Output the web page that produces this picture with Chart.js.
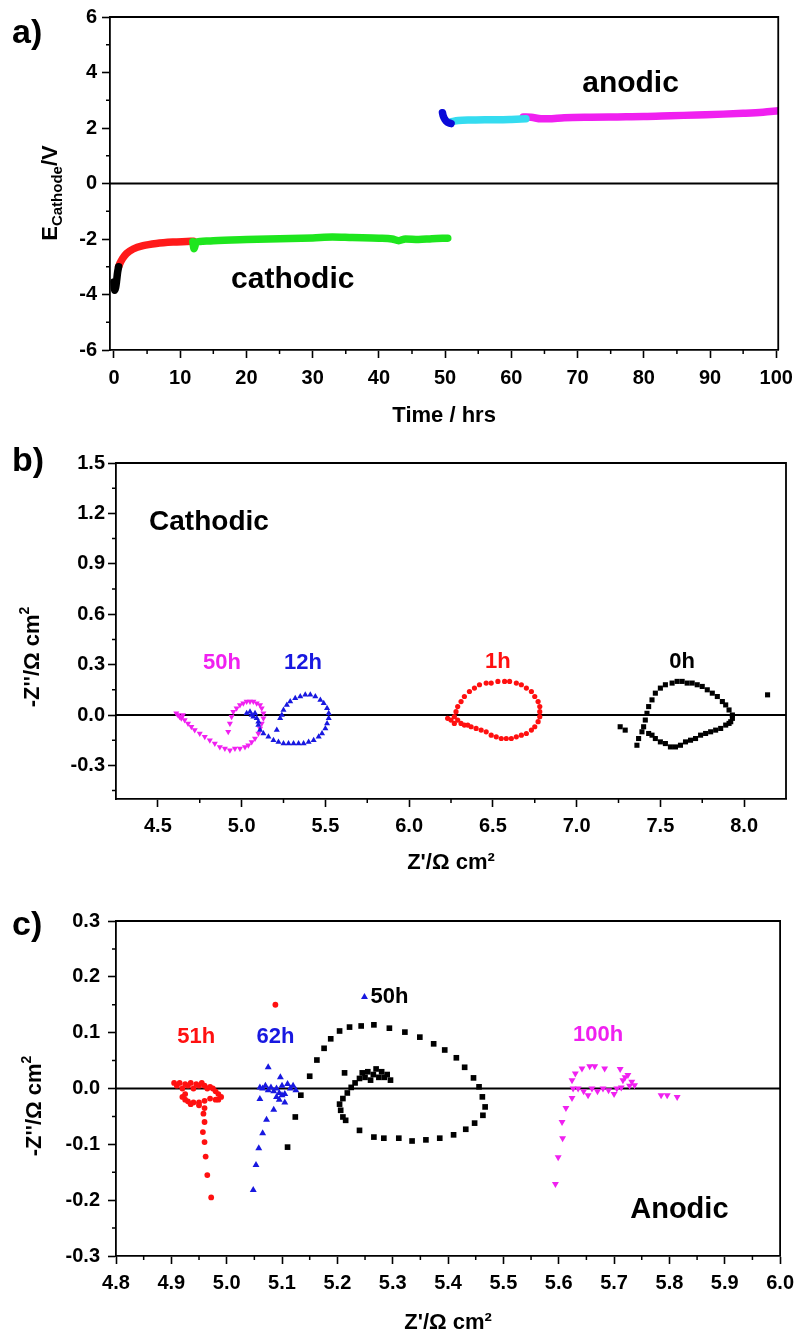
<!DOCTYPE html>
<html>
<head>
<meta charset="utf-8">
<script src="https://cdn.jsdelivr.net/npm/chart.js@4.4.1/dist/chart.umd.min.js"></script>
<style>
    html, body { margin: 0; padding: 0; background: #fff; }
    .panel { position: absolute; left: 0; }
    #chartA { top: 0; }
    #chartB { top: 440px; }
    #chartC { top: 880px; }
</style>
</head>
<body>
<canvas id="chartA" class="panel" width="801" height="440"></canvas>
<canvas id="chartB" class="panel" width="801" height="440"></canvas>
<canvas id="chartC" class="panel" width="801" height="458"></canvas>
<script>
const FONT = "'Liberation Sans', Arial, sans-serif";

// ---- Panel a: E_cathode vs time, [hrs, V] ----
const aBlack   = [[0,-3.55],[0.1,-3.85],[0.25,-3.75],[0.4,-3.5],[0.55,-3.2],[0.7,-3.0]];
const aRed     = [[0.7,-3.0],[0.9,-2.88],[1.3,-2.7],[1.9,-2.52],[2.9,-2.36],[4.4,-2.24],[6.4,-2.16],[8.9,-2.11],[11,-2.09],[12,-2.08]];
const aGreen   = [[11.9,-2.1],[12.1,-2.35],[12.4,-2.12],[13,-2.09],[15,-2.06],[20,-2.02],[25,-1.99],[30,-1.96],[33,-1.93],[36,-1.95],[40,-1.97],[42,-2.0],[43,-2.06],[44,-2.0],[46,-2.02],[48,-1.99],[50.4,-1.97]];
const aBlue    = [[49.6,2.55],[49.7,2.45],[50,2.3],[50.4,2.2],[50.9,2.16]];
const aCyan    = [[50.8,2.22],[52,2.27],[54,2.29],[56,2.3],[58,2.3],[60,2.31],[62.2,2.33]];
const aMagenta = [[61.8,2.4],[63,2.39],[64.5,2.33],[65.5,2.33],[68,2.37],[72,2.39],[76,2.4],[80,2.41],[84,2.44],[88,2.47],[92,2.5],[95,2.53],[98,2.57],[100.3,2.62]];
const aXTicks = [0, 10, 20, 30, 40, 50, 60, 70, 80, 90, 100];
const aXMinor = [5, 15, 25, 35, 45, 55, 65, 75, 85, 95];
const aYTicks = [-6, -4, -2, 0, 2, 4, 6];
const aYMinor = [-5, -3, -1, 1, 3, 5];

// ---- Panel b: cathodic impedance, [Z', -Z''] ----
const b50h = [[4.61,0.01],[4.62,0.0],[4.63,-0.01],[4.64,-0.02],[4.65,0.0],[4.66,-0.03],[4.68,-0.05],[4.70,-0.07],[4.72,-0.09],[4.75,-0.11],[4.78,-0.13],[4.81,-0.15],[4.84,-0.17],[4.87,-0.19],[4.90,-0.2],[4.93,-0.21],[4.96,-0.2],[4.99,-0.2],[5.02,-0.19],[5.04,-0.18],[5.06,-0.16],[5.08,-0.14],[5.10,-0.11],[5.11,-0.08],[5.12,-0.05],[5.13,-0.02],[5.13,0.01],[5.12,0.04],[5.11,0.06],[5.09,0.07],[5.07,0.08],[5.05,0.08],[5.03,0.08],[5.01,0.07],[4.99,0.06],[4.97,0.04],[4.95,0.02],[4.94,-0.01],[4.93,-0.05],[4.92,-0.1]];
const b12h = [[5.03,0.01],[5.05,0.02],[5.06,0.0],[5.07,-0.01],[5.08,0.01],[5.09,-0.02],[5.10,-0.04],[5.10,-0.06],[5.11,-0.09],[5.13,-0.11],[5.16,-0.13],[5.19,-0.15],[5.22,-0.16],[5.25,-0.17],[5.28,-0.17],[5.31,-0.17],[5.34,-0.17],[5.37,-0.17],[5.40,-0.16],[5.43,-0.15],[5.46,-0.13],[5.48,-0.11],[5.50,-0.08],[5.51,-0.05],[5.52,-0.02],[5.52,0.01],[5.51,0.04],[5.49,0.07],[5.47,0.09],[5.44,0.11],[5.41,0.12],[5.38,0.12],[5.35,0.11],[5.32,0.1],[5.29,0.08],[5.27,0.06],[5.25,0.03],[5.24,0.0],[5.23,-0.02],[5.21,-0.09]];
const b1h = [[6.23,-0.02],[6.25,-0.03],[6.27,-0.05],[6.29,-0.03],[6.31,-0.05],[6.33,-0.06],[6.35,-0.06],[6.37,-0.07],[6.40,-0.08],[6.43,-0.09],[6.46,-0.1],[6.49,-0.12],[6.52,-0.13],[6.55,-0.14],[6.58,-0.14],[6.61,-0.14],[6.64,-0.13],[6.67,-0.12],[6.70,-0.11],[6.73,-0.09],[6.75,-0.07],[6.77,-0.04],[6.78,-0.01],[6.78,0.02],[6.78,0.05],[6.77,0.08],[6.75,0.11],[6.73,0.14],[6.70,0.16],[6.67,0.18],[6.64,0.19],[6.60,0.2],[6.57,0.2],[6.53,0.2],[6.49,0.19],[6.46,0.19],[6.42,0.18],[6.39,0.16],[6.36,0.14],[6.33,0.11],[6.31,0.08],[6.29,0.05],[6.28,0.02],[6.27,-0.01]];
const b0h = [[7.26,-0.07],[7.29,-0.09],[7.36,-0.18],[7.37,-0.14],[7.39,-0.1],[7.40,-0.07],[7.41,-0.03],[7.42,0.01],[7.43,0.05],[7.45,0.09],[7.47,0.13],[7.50,0.16],[7.53,0.18],[7.57,0.19],[7.60,0.2],[7.63,0.2],[7.66,0.19],[7.69,0.19],[7.72,0.18],[7.75,0.17],[7.78,0.15],[7.81,0.13],[7.84,0.11],[7.87,0.08],[7.89,0.06],[7.91,0.03],[7.93,0.0],[7.93,-0.02],[7.92,-0.04],[7.91,-0.05],[7.89,-0.06],[7.86,-0.08],[7.83,-0.09],[7.80,-0.1],[7.77,-0.11],[7.74,-0.12],[7.71,-0.14],[7.68,-0.15],[7.65,-0.16],[7.62,-0.18],[7.59,-0.19],[7.56,-0.19],[7.53,-0.17],[7.50,-0.16],[7.47,-0.14],[7.45,-0.12],[7.43,-0.11],[8.14,0.12]];
const bXTicks = [4.5, 5.0, 5.5, 6.0, 6.5, 7.0, 7.5, 8.0];
const bXMinor = [4.75, 5.25, 5.75, 6.25, 6.75, 7.25, 7.75];
const bYTicks = [-0.3, 0.0, 0.3, 0.6, 0.9, 1.2, 1.5];
const bYMinor = [-0.45, -0.15, 0.15, 0.45, 0.75, 1.05, 1.35];

// ---- Panel c: anodic impedance, [Z', -Z''] ----
const c51h = [[4.905,0.01],[4.91,0.005],[4.915,0.01],[4.92,0.0],[4.925,0.008],[4.93,0.005],[4.935,0.01],[4.94,0.0],[4.945,0.008],[4.95,0.005],[4.955,0.01],[4.96,0.005],[4.965,0.0],[4.97,0.003],[4.975,0.0],[4.98,-0.005],[4.985,-0.01],[4.99,-0.015],[4.985,-0.02],[4.98,-0.02],[4.97,-0.018],[4.96,-0.022],[4.95,-0.025],[4.94,-0.025],[4.93,-0.023],[4.925,-0.02],[4.92,-0.015],[4.925,-0.01],[4.935,-0.028],[4.95,-0.03],[4.96,-0.035],[4.958,-0.045],[4.96,-0.06],[4.957,-0.078],[4.96,-0.096],[4.962,-0.122],[4.965,-0.155],[4.972,-0.195],[5.088,0.15]];
const c62h = [[5.06,0.002],[5.065,0.0],[5.07,0.005],[5.075,-0.003],[5.08,0.002],[5.085,-0.005],[5.09,0.0],[5.095,-0.008],[5.1,0.005],[5.105,-0.01],[5.11,0.008],[5.115,0.0],[5.12,0.005],[5.125,-0.003],[5.09,-0.015],[5.095,-0.02],[5.1,-0.012],[5.105,-0.025],[5.075,0.038],[5.097,0.02],[5.06,-0.019],[5.085,-0.038],[5.072,-0.056],[5.065,-0.08],[5.058,-0.107],[5.053,-0.137],[5.048,-0.182],[5.249,0.164]];
const c50h = [[5.11,-0.105],[5.124,-0.051],[5.134,-0.012],[5.15,0.022],[5.163,0.051],[5.176,0.072],[5.188,0.089],[5.204,0.103],[5.222,0.11],[5.243,0.112],[5.266,0.114],[5.294,0.108],[5.322,0.101],[5.349,0.092],[5.374,0.08],[5.394,0.069],[5.415,0.055],[5.43,0.038],[5.446,0.019],[5.456,0.003],[5.462,-0.015],[5.467,-0.033],[5.463,-0.048],[5.448,-0.062],[5.432,-0.073],[5.41,-0.083],[5.385,-0.089],[5.36,-0.092],[5.335,-0.094],[5.311,-0.089],[5.284,-0.089],[5.266,-0.087],[5.24,-0.075],[5.215,-0.057],[5.21,-0.051],[5.206,-0.039],[5.204,-0.028],[5.21,-0.018],[5.218,-0.008],[5.225,0.002],[5.232,0.01],[5.24,0.018],[5.245,0.028],[5.25,0.02],[5.255,0.03],[5.26,0.015],[5.265,0.025],[5.27,0.035],[5.275,0.02],[5.28,0.03],[5.285,0.02],[5.29,0.025],[5.296,0.015],[5.213,0.028]];
const c100h = [[5.594,-0.171],[5.599,-0.123],[5.607,-0.089],[5.606,-0.06],[5.613,-0.035],[5.624,-0.017],[5.626,0.0],[5.624,0.015],[5.63,0.027],[5.642,0.036],[5.656,0.04],[5.665,0.04],[5.683,0.036],[5.711,0.035],[5.725,0.024],[5.732,0.012],[5.737,0.006],[5.716,0.015],[5.72,0.02],[5.728,0.005],[5.635,0.0],[5.645,-0.005],[5.653,-0.012],[5.66,0.0],[5.67,-0.005],[5.68,0.0],[5.69,-0.003],[5.7,-0.01],[5.705,0.0],[5.713,0.002],[5.785,-0.012],[5.796,-0.012],[5.814,-0.015]];
const cXTicks = [4.8, 4.9, 5.0, 5.1, 5.2, 5.3, 5.4, 5.5, 5.6, 5.7, 5.8, 5.9, 6.0];
const cXMinor = [4.85, 4.95, 5.05, 5.15, 5.25, 5.35, 5.45, 5.55, 5.65, 5.75, 5.85, 5.95];
const cYTicks = [-0.3, -0.2, -0.1, 0.0, 0.1, 0.2, 0.3];
const cYMinor = [-0.25, -0.15, -0.05, 0.05, 0.15, 0.25];

const RED = '#ff1010', BLUE = '#1818e0', MAGENTA = '#f020f0';

function pts(pairs) {
    return pairs.map(p => ({ x: p[0], y: p[1] }));
}

// draw a rotated multi-part title (subscript / superscript parts)
function drawYTitle(ctx, parts, cx, cy) {
    ctx.save();
    ctx.translate(cx, cy);
    ctx.rotate(-Math.PI / 2);
    ctx.textBaseline = 'alphabetic';
    ctx.textAlign = 'left';
    ctx.fillStyle = '#000';
    let total = 0;
    parts.forEach(p => { ctx.font = `bold ${p.size}px ${FONT}`; total += ctx.measureText(p.text).width; });
    let x = -total / 2;
    parts.forEach(p => {
        ctx.font = `bold ${p.size}px ${FONT}`;
        ctx.fillText(p.text, x, 8 + (p.dy || 0));
        x += ctx.measureText(p.text).width;
    });
    ctx.restore();
}

// frame, zero line, minor ticks, labels
function decor(cfg) {
    return {
        id: 'decor',
        beforeDatasetsDraw(chart) {
            const { ctx, chartArea: a, scales: { y } } = chart;
            const y0 = y.getPixelForValue(0);
            ctx.save();
            ctx.strokeStyle = '#000';
            ctx.lineWidth = 1.8;
            ctx.beginPath();
            ctx.moveTo(a.left, y0);
            ctx.lineTo(a.right, y0);
            ctx.stroke();
            ctx.restore();
        },
        afterDraw(chart) {
            const { ctx, chartArea: a, scales: { x, y } } = chart;
            ctx.save();
            ctx.strokeStyle = '#000';
            ctx.lineWidth = 1.8;
            ctx.beginPath();
            ctx.moveTo(a.left, a.top);
            ctx.lineTo(a.right, a.top);
            ctx.lineTo(a.right, a.bottom);
            ctx.stroke();

            ctx.lineWidth = 1.5;
            ctx.beginPath();
            cfg.xMinor.forEach(v => {
                const px = x.getPixelForValue(v);
                ctx.moveTo(px, a.bottom);
                ctx.lineTo(px, a.bottom + 4);
            });
            cfg.yMinor.forEach(v => {
                const py = y.getPixelForValue(v);
                ctx.moveTo(a.left, py);
                ctx.lineTo(a.left - 4, py);
            });
            ctx.stroke();

            ctx.textAlign = 'center';
            ctx.textBaseline = 'middle';
            cfg.labels.forEach(l => {
                ctx.font = `bold ${l.size}px ${FONT}`;
                ctx.fillStyle = l.color;
                ctx.fillText(l.text, x.getPixelForValue(l.x), y.getPixelForValue(l.y));
            });

            ctx.textAlign = 'left';
            ctx.fillStyle = '#000';
            ctx.font = `bold 34px ${FONT}`;
            ctx.fillText(cfg.letter, cfg.letterPos[0], cfg.letterPos[1]);
            ctx.restore();

            drawYTitle(ctx, cfg.yTitle, cfg.yTitlePos[0], cfg.yTitlePos[1]);
        }
    };
}

function axis(pos, min, max, ticks, fmt, fit, pad, title) {
    return {
        type: 'linear',
        position: pos,
        min: min,
        max: max,
        afterBuildTicks: s => { s.ticks = ticks.map(v => ({ value: v })); },
        afterFit: s => { if (pos === 'left') s.width = fit; else s.height = fit; },
        border: { color: '#000', width: 1.8 },
        grid: { drawOnChartArea: false, drawTicks: true, tickLength: 8, tickWidth: 1.6, tickColor: '#000' },
        ticks: {
            autoSkip: false,
            maxRotation: 0,
            padding: pad,
            color: '#000',
            font: { family: FONT, size: 20, weight: 'bold' },
            callback: fmt
        },
        title: title || { display: false }
    };
}

function xTitle(text, pb) {
    return {
        display: true,
        text: text,
        color: '#000',
        font: { family: FONT, size: 22, weight: 'bold' },
        padding: { top: 0, bottom: pb }
    };
}

function baseOptions(padTop, padRight, scales) {
    return {
        responsive: false,
        animation: false,
        devicePixelRatio: 1,
        layout: { autoPadding: false, padding: { top: padTop, right: padRight, bottom: 0, left: 0 } },
        plugins: { legend: { display: false }, tooltip: { enabled: false } },
        scales: scales
    };
}

function lineSet(data, color, order) {
    return {
        data: pts(data), showLine: true, borderColor: color, borderWidth: 7.5,
        pointRadius: 0, cubicInterpolationMode: 'monotone',
        borderCapStyle: 'round', borderJoinStyle: 'round', order: order
    };
}

function dotSet(data, color, style, r, rot) {
    return {
        data: pts(data), showLine: false, pointStyle: style, pointRadius: r,
        pointRotation: rot || 0, backgroundColor: color, borderColor: color, borderWidth: 0
    };
}

const int = v => String(v);
const one = v => v.toFixed(1);

// ---- Panel a ----
new Chart(document.getElementById('chartA'), {
    type: 'scatter',
    data: {
        datasets: [
            lineSet(aBlack, '#000000', 1),
            lineSet(aRed, '#ff1a1a', 3),
            lineSet(aGreen, '#1ee61e', 2),
            lineSet(aBlue, '#0a0ad8', 4),
            lineSet(aCyan, '#35dcf0', 5),
            lineSet(aMagenta, '#f020f0', 6)
        ]
    },
    options: baseOptions(15, 21, {
        x: axis('bottom', -0.6, 100.3, aXTicks, int, 90, 8, xTitle('Time / hrs', 11)),
        y: axis('left', -6, 6, aYTicks, int, 110, 5)
    }),
    plugins: [decor({
        xMinor: aXMinor, yMinor: aYMinor,
        labels: [
            { text: 'anodic', x: 78, y: 3.58, color: '#000', size: 30 },
            { text: 'cathodic', x: 27, y: -3.48, color: '#000', size: 30 }
        ],
        letter: 'a)', letterPos: [12, 34],
        yTitle: [{ text: 'E', size: 22 }, { text: 'Cathode', size: 15, dy: 5 }, { text: '/V', size: 22 }],
        yTitlePos: [49, 193]
    })]
});

// ---- Panel b ----
new Chart(document.getElementById('chartB'), {
    type: 'scatter',
    data: {
        datasets: [
            dotSet(b0h, '#000000', 'rect', 3.6),
            dotSet(b1h, RED, 'circle', 2.6),
            dotSet(b12h, BLUE, 'triangle', 3.5),
            dotSet(b50h, MAGENTA, 'triangle', 3.5, 180)
        ]
    },
    options: baseOptions(23, 15, {
        x: axis('bottom', 4.25, 8.25, bXTicks, one, 81, 7, xTitle("Z'/\u03A9 cm\u00B2", 4)),
        y: axis('left', -0.5, 1.5, bYTicks, one, 116, 3)
    }),
    plugins: [decor({
        xMinor: bXMinor, yMinor: bYMinor,
        labels: [
            { text: 'Cathodic', x: 4.805, y: 1.149, color: '#000', size: 28 },
            { text: '50h', x: 4.883, y: 0.31, color: MAGENTA, size: 22 },
            { text: '12h', x: 5.366, y: 0.31, color: BLUE, size: 22 },
            { text: '1h', x: 6.53, y: 0.315, color: RED, size: 22 },
            { text: '0h', x: 7.63, y: 0.315, color: '#000', size: 22 }
        ],
        letter: 'b)', letterPos: [12, 22],
        yTitle: [{ text: "-Z''/\u03A9 cm", size: 22 }, { text: '2', size: 14, dy: -10 }],
        yTitlePos: [31, 217]
    })]
});

// ---- Panel c ----
new Chart(document.getElementById('chartC'), {
    type: 'scatter',
    data: {
        datasets: [
            dotSet(c50h, '#000000', 'rect', 4),
            dotSet(c51h, RED, 'circle', 2.9),
            dotSet(c62h, BLUE, 'triangle', 4),
            dotSet(c100h, MAGENTA, 'triangle', 4, 180)
        ]
    },
    options: baseOptions(41, 14, {
        x: axis('bottom', 4.8, 6.0, cXTicks, one, 82, 7, xTitle("Z'/\u03A9 cm\u00B2", 2)),
        y: axis('left', -0.3, 0.3, cYTicks, one, 116, 8)
    }),
    plugins: [decor({
        xMinor: cXMinor, yMinor: cYMinor,
        labels: [
            { text: '51h', x: 4.945, y: 0.092, color: RED, size: 22 },
            { text: '62h', x: 5.088, y: 0.092, color: BLUE, size: 22 },
            { text: '50h', x: 5.294, y: 0.164, color: '#000', size: 22 },
            { text: '100h', x: 5.671, y: 0.096, color: MAGENTA, size: 22 },
            { text: 'Anodic', x: 5.818, y: -0.218, color: '#000', size: 29 }
        ],
        letter: 'c)', letterPos: [12, 46],
        yTitle: [{ text: "-Z''/\u03A9 cm", size: 22 }, { text: '2', size: 14, dy: -10 }],
        yTitlePos: [33, 226]
    })]
});
</script>
</body>
</html>
